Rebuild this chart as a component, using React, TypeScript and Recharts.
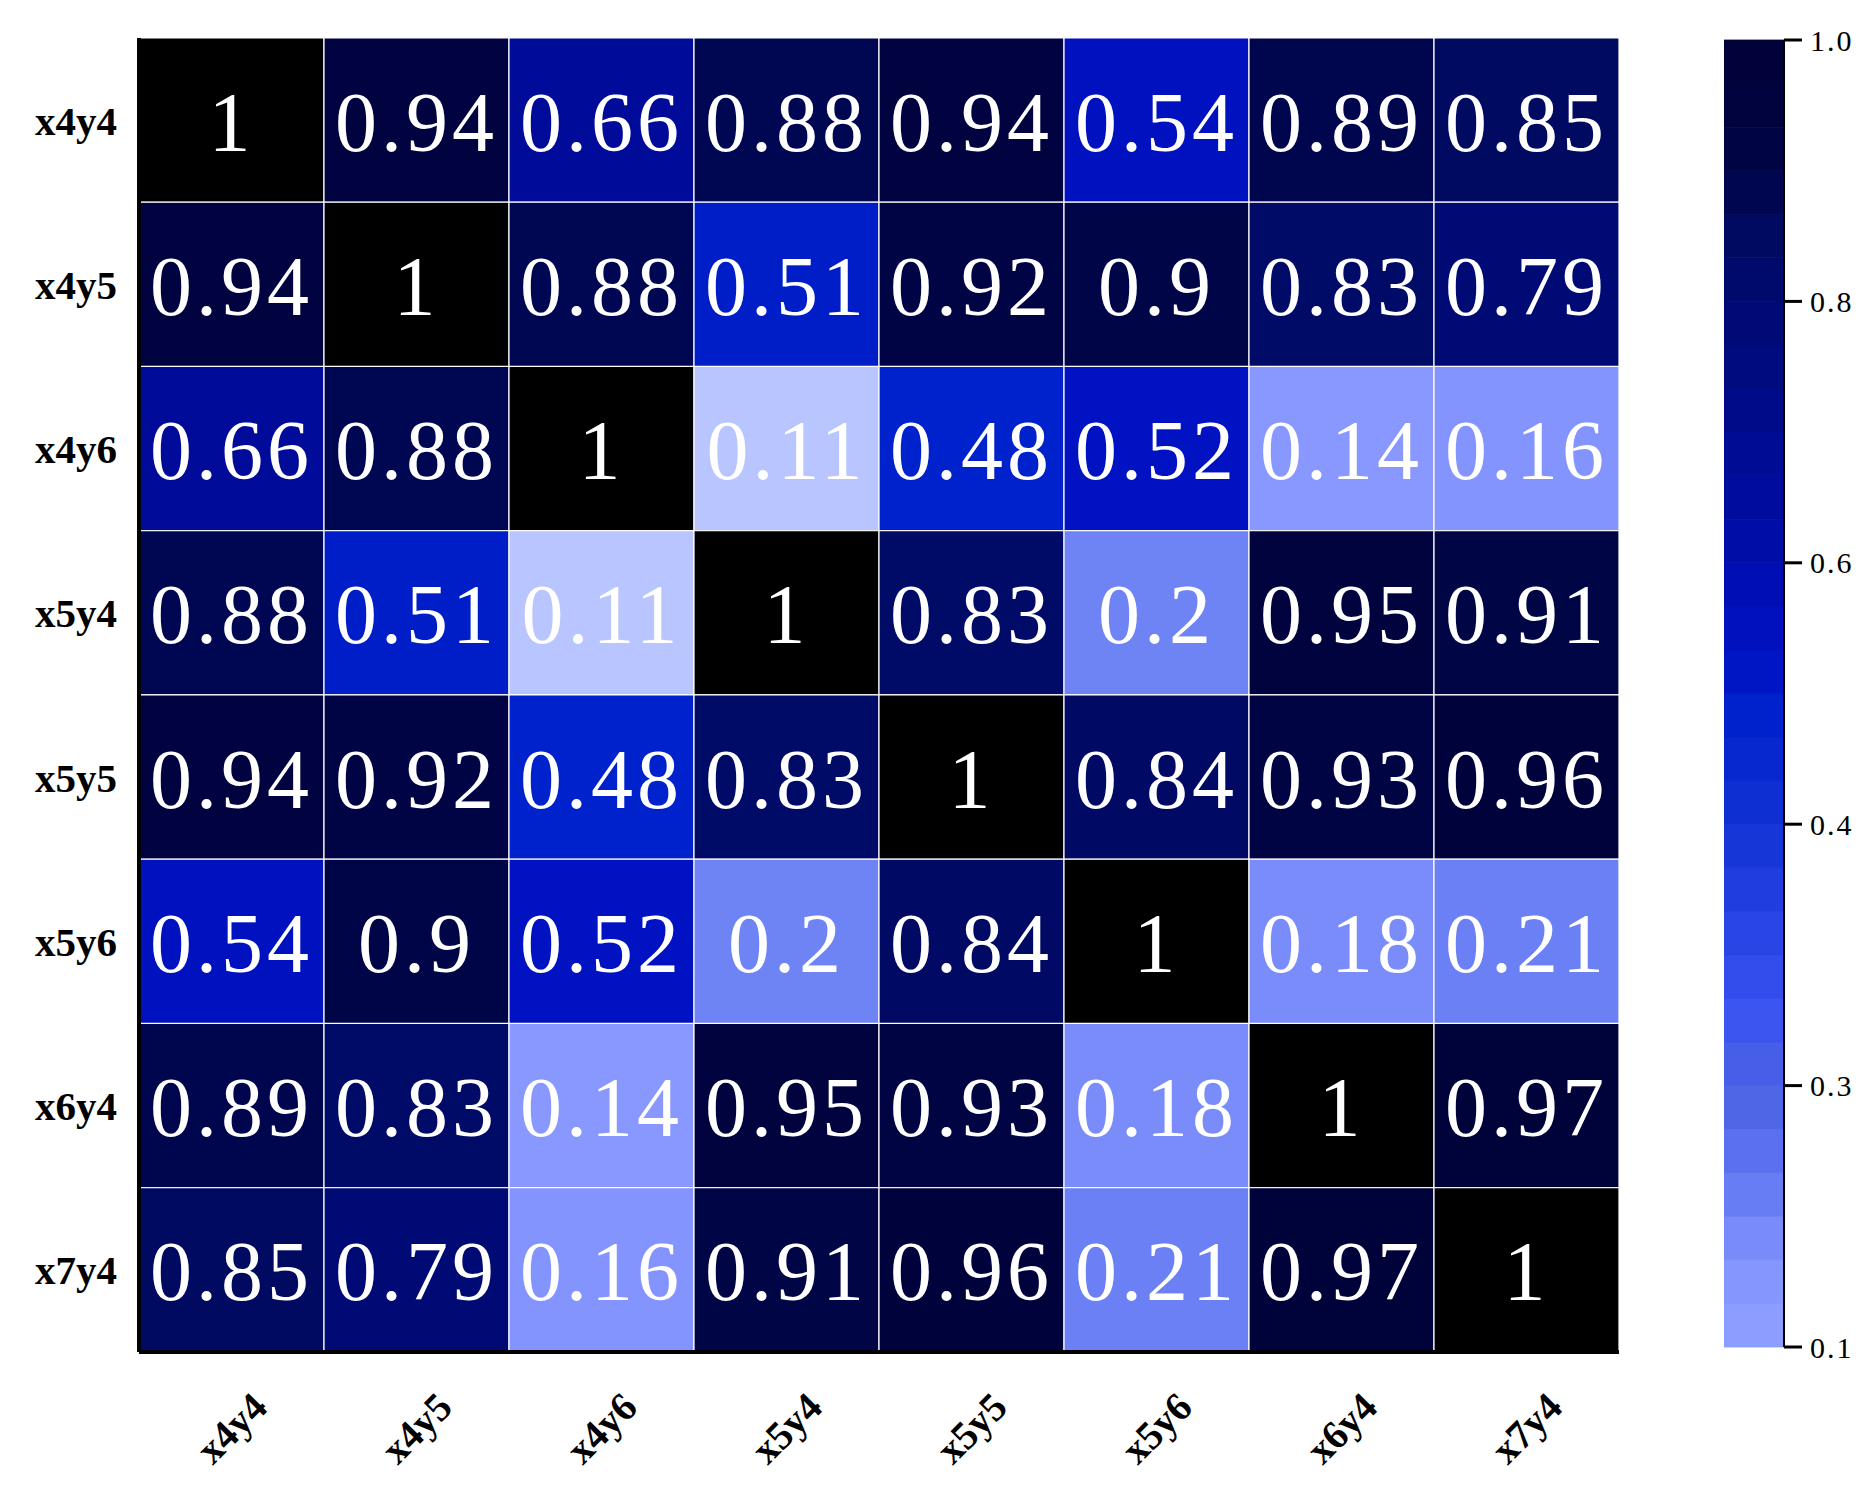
import { BarChart, Bar, Cell, XAxis, YAxis, LabelList } from 'recharts';

const LABELS = ['x4y4', 'x4y5', 'x4y6', 'x5y4', 'x5y5', 'x5y6', 'x6y4', 'x7y4'];

const rowX4Y4 = [1, 0.94, 0.66, 0.88, 0.94, 0.54, 0.89, 0.85];
const rowX4Y5 = [0.94, 1, 0.88, 0.51, 0.92, 0.9, 0.83, 0.79];
const rowX4Y6 = [0.66, 0.88, 1, 0.11, 0.48, 0.52, 0.14, 0.16];
const rowX5Y4 = [0.88, 0.51, 0.11, 1, 0.83, 0.2, 0.95, 0.91];
const rowX5Y5 = [0.94, 0.92, 0.48, 0.83, 1, 0.84, 0.93, 0.96];
const rowX5Y6 = [0.54, 0.9, 0.52, 0.2, 0.84, 1, 0.18, 0.21];
const rowX6Y4 = [0.89, 0.83, 0.14, 0.95, 0.93, 0.18, 1, 0.97];
const rowX7Y4 = [0.85, 0.79, 0.16, 0.91, 0.96, 0.21, 0.97, 1];

const MATRIX = [rowX4Y4, rowX4Y5, rowX4Y6, rowX5Y4, rowX5Y5, rowX5Y6, rowX6Y4, rowX7Y4];

// colour bar tick labels (evenly spaced on the bar)
const CB_TICKS = ['0.1', '0.3', '0.4', '0.6', '0.8', '1.0'];
const CB_STEPS = 6;

// colour map stops
const STOPS: [number, string][] = [
  [0.1, '#b9c5ff'],
  [0.11, '#b9c5ff'],
  [0.125, '#8c9cff'],
  [0.14, '#8898ff'],
  [0.16, '#8494ff'],
  [0.18, '#7a8cfa'],
  [0.2, '#6e84f5'],
  [0.25, '#5a70ee'],
  [0.3, '#4a62e4'],
  [0.33, '#3a52f2'],
  [0.4, '#1232d4'],
  [0.48, '#0022cc'],
  [0.51, '#001ec8'],
  [0.52, '#0012c2'],
  [0.56, '#0010bc'],
  [0.66, '#000c99'],
  [0.8, '#000a72'],
  [0.85, '#000a60'],
  [0.9, '#000548'],
  [0.97, '#00023a'],
  [0.999, '#000238'],
];

const hex = (c: string) => [1, 3, 5].map((i) => parseInt(c.slice(i, i + 2), 16));

const colorOf = (v: number) => {
  if (v >= 1) return '#000000';
  if (v <= STOPS[0][0]) return STOPS[0][1];
  for (let i = 1; i < STOPS.length; i++) {
    const [b, cb] = STOPS[i];
    const [a, ca] = STOPS[i - 1];
    if (v <= b) {
      const t = (v - a) / (b - a);
      const A = hex(ca);
      const B = hex(cb);
      const m = A.map((x, k) => Math.round(x + (B[k] - x) * t));
      return `rgb(${m[0]},${m[1]},${m[2]})`;
    }
  }
  return STOPS[STOPS.length - 1][1];
};

const heatData = LABELS.map((row) => {
  const o: Record<string, any> = { row };
  LABELS.forEach((_, j) => (o[`c${j}`] = 1));
  return o;
});

// colour bar bands
const cbBands: number[] = [];
for (let k = 0; k < CB_TICKS.length - 1; k++) {
  const a = parseFloat(CB_TICKS[k]);
  const b = parseFloat(CB_TICKS[k + 1]);
  for (let s = 0; s < CB_STEPS; s++) cbBands.push(a + ((b - a) * (s + 0.5)) / CB_STEPS);
}
const cbData = [Object.fromEntries([['name', 'cb'], ...cbBands.map((_, i) => [`b${i}`, 1])])];

const SERIF = '"Liberation Serif", "Times New Roman", serif';

const XTick = (props: any) => {
  const { x, y, payload } = props;
  const cx = x;
  const cy = y + 74;
  return (
    <text
      x={cx}
      y={cy}
      transform={`rotate(-45, ${cx}, ${cy})`}
      textAnchor="middle"
      dominantBaseline="central"
      fontFamily={SERIF}
      fontWeight="bold"
      fontSize={40}
      fill="#000"
    >
      {LABELS[Math.floor(payload.value)]}
    </text>
  );
};

const makeLabel = (j: number) => (props: any) => {
  const { x, y, width, height, index } = props;
  const v = MATRIX[index][j];
  return (
    <text
      x={x + width / 2}
      y={y + height / 2 + 2}
      textAnchor="middle"
      dominantBaseline="central"
      fontFamily={SERIF}
      fontSize={84}
      letterSpacing={4}
      fill="#fff"
    >
      {String(v)}
    </text>
  );
};

const App: React.FC = () => {
  return (
    <div style={{ position: 'relative', width: 1855, height: 1470, overflow: 'hidden', background: '#fff' }}>
      <div style={{ position: 'absolute', left: 0, top: 0 }}>
        <BarChart
          width={1680}
          height={1470}
          data={heatData}
          layout="vertical"
          barCategoryGap="0%"
          barGap={0}
          margin={{ top: 30, right: 69, bottom: 0, left: 0 }}
        >
          {LABELS.map((c, j) => (
            <Bar key={c} dataKey={`c${j}`} stackId="h" isAnimationActive={false} stroke="#fff" strokeWidth={1.2}>
              {LABELS.map((r, i) => (
                <Cell key={r} fill={colorOf(MATRIX[i][j])} />
              ))}
              <LabelList content={makeLabel(j)} />
            </Bar>
          ))}
          <XAxis
            type="number"
            domain={[0, 8]}
            ticks={[0.5, 1.5, 2.5, 3.5, 4.5, 5.5, 6.5, 7.5]}
            tick={<XTick />}
            tickLine={false}
            tickSize={0}
            height={126}
            axisLine={{ stroke: '#000', strokeWidth: 4 }}
            interval={0}
          />
          <XAxis
            xAxisId="top"
            orientation="top"
            type="number"
            domain={[0, 8]}
            tick={false}
            tickLine={false}
            height={0}
            axisLine={{ stroke: '#000', strokeWidth: 4 }}
          />
          <YAxis
            type="category"
            dataKey="row"
            width={131}
            tickLine={false}
            tickSize={0}
            tickMargin={22}
            axisLine={{ stroke: '#000', strokeWidth: 4 }}
            tick={{ fontFamily: SERIF, fontWeight: 'bold', fontSize: 41, fill: '#000' }}
            interval={0}
          />
          <YAxis
            yAxisId="right"
            orientation="right"
            type="category"
            dataKey="row"
            width={0}
            tick={false}
            tickLine={false}
            axisLine={{ stroke: '#000', strokeWidth: 4 }}
          />
        </BarChart>
      </div>
      <div style={{ position: 'absolute', left: 1716, top: 0 }}>
        <BarChart
          width={140}
          height={1360}
          data={cbData}
          barCategoryGap="0%"
          margin={{ top: 32, right: 0, bottom: 21, left: 0 }}
        >
          {cbBands.map((v, i) => {
            const col = colorOf(Math.max(v, 0.126));
            return (
              <Bar key={i} dataKey={`b${i}`} stackId="cb" fill={col} stroke={col} strokeWidth={0.8} isAnimationActive={false} />
            );
          })}
          <XAxis dataKey="name" tick={false} tickLine={false} height={0} axisLine={{ stroke: '#000', strokeWidth: 2 }} />
          <XAxis
            xAxisId="top"
            orientation="top"
            dataKey="name"
            tick={false}
            tickLine={false}
            height={0}
            axisLine={{ stroke: '#000', strokeWidth: 2 }}
          />
          <YAxis
            yAxisId="l"
            orientation="left"
            width={0}
            tick={false}
            tickLine={false}
            axisLine={{ stroke: '#000', strokeWidth: 2 }}
          />
          <YAxis
            orientation="right"
            type="number"
            domain={[0, cbBands.length]}
            ticks={CB_TICKS.map((_, i) => i * CB_STEPS)}
            tickFormatter={(v: number) => CB_TICKS[Math.round(v / CB_STEPS)]}
            width={80}
            tickSize={18}
            tickMargin={8}
            tickLine={{ stroke: '#000', strokeWidth: 3 }}
            axisLine={{ stroke: '#000', strokeWidth: 2 }}
            tick={{ fontFamily: SERIF, fontSize: 30, fill: '#000', letterSpacing: 2 }}
            interval={0}
          />
        </BarChart>
      </div>
    </div>
  );
};

export default App;
